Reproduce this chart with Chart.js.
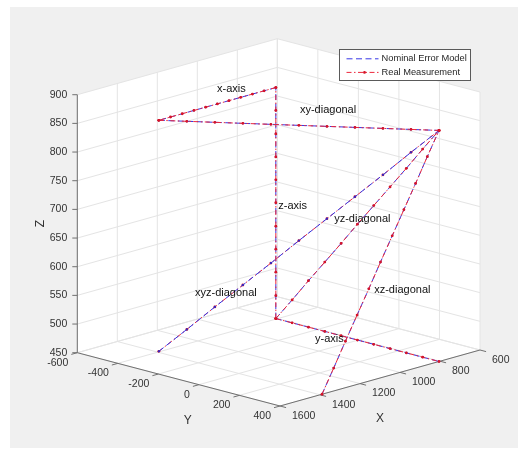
<!DOCTYPE html>
<html>
<head>
<meta charset="utf-8">
<title>Nominal error model vs real measurement</title>
<script src="https://cdn.jsdelivr.net/npm/chart.js@4.4.1/dist/chart.umd.min.js"></script>
<style>
  html, body { margin: 0; padding: 0; background: #ffffff; }
  #box { width: 518px; height: 450px; }
</style>
</head>
<body>
<div id="box"><canvas id="errorChart"></canvas></div>
<script>
// axis ticks (mm)
const xTicks = [600, 800, 1000, 1200, 1400, 1600];
const yTicks = [-600, -400, -200, 0, 200, 400];
const zTicks = [450, 500, 550, 600, 650, 700, 750, 800, 850, 900];

// measured positions along each motion (mm)
const xForward = [805, 863.5, 922, 980.5, 1039, 1097.5, 1156, 1214.5, 1273, 1331.5, 1390];
const xBack = [1390, 1331.5, 1273, 1214.5, 1156, 1097.5, 1039, 980.5, 922, 863.5, 805];
const yForward = [-405, -324.5, -244, -163.5, -83, -2.5, 78, 158.5, 239, 319.5, 400];
const zUp = [450, 490, 531, 571, 611, 652, 692, 732, 772, 813, 853];

// one entry per measured line, a single value = coordinate held fixed
const lineNames = ["z-axis", "x-axis", "xy-diagonal", "yz-diagonal", "xz-diagonal", "y-axis", "xyz-diagonal"];
const lineX = [[805], xForward, xBack, [805], xBack, [805], xBack];
const lineY = [[-405], [-405], yForward, yForward, [400], yForward, yForward];
const lineZ = [zUp, [853], [853], zUp, zUp, [450], zUp];

// where each line name is written (mm)
const labelX = [793, 1099, 1095, 805, 1129, 1000, 1417];
const labelY = [-405, -405, 0, -117, 400, -19, -200];
const labelZ = [646, 879, 880, 651, 606, 469, 573];

// fixed camera: screen spot of the back floor corner, screen step per mm along X, Y, Z
const view = { x0: 277.3, y0: 296.7, xStep: [-0.2, 0.056], yStep: [0.2027, 0.0533], zStep: -0.5733 };

function project(X, Y, Z) {
  const dx = X - xTicks[0], dy = Y - yTicks[0], dz = Z - zTicks[0];
  return {
    x: view.x0 + view.xStep[0] * dx + view.yStep[0] * dy,
    y: view.y0 + view.xStep[1] * dx + view.yStep[1] * dy + view.zStep * dz
  };
}

function pick(arr, j) { return arr.length > 1 ? arr[j] : arr[0]; }

function linePoints(i) {
  const n = Math.max(lineX[i].length, lineY[i].length, lineZ[i].length);
  const pts = [];
  for (let j = 0; j < n; j++) {
    pts.push(project(pick(lineX[i], j), pick(lineY[i], j), pick(lineZ[i], j)));
  }
  return pts;
}

const nominalStyle = {
  label: "Nominal Error Model",
  borderColor: "rgb(55,55,230)",
  backgroundColor: "rgb(40,40,200)",
  borderWidth: 1,
  borderDash: [6, 3.5],
  pointRadius: 1.1,
  pointBorderWidth: 0
};
const realStyle = {
  label: "Real Measurement",
  borderColor: "rgb(236,40,60)",
  backgroundColor: "rgb(215,20,40)",
  borderWidth: 1,
  borderDash: [5, 2.5, 1.5, 2.5],
  pointRadius: 1.4,
  pointBorderWidth: 0
};

const datasets = [];
lineNames.forEach(function (name, i) {
  const pts = linePoints(i);
  const blueOnTop = name === "xyz-diagonal";
  datasets.push(Object.assign({}, nominalStyle, { data: pts, showLine: true, clip: false, order: blueOnTop ? 0 : 1 }));
  datasets.push(Object.assign({}, realStyle, { data: pts, showLine: true, clip: false, order: blueOnTop ? 1 : 0 }));
});

const FONT = "'Liberation Sans', Arial, sans-serif";

function toPx(chart, p) {
  return { x: chart.scales.x.getPixelForValue(p.x), y: chart.scales.y.getPixelForValue(p.y) };
}
function at(chart, X, Y, Z) { return toPx(chart, project(X, Y, Z)); }

function strokeSegs(chart, segs, color, width) {
  const ctx = chart.ctx;
  ctx.save();
  ctx.strokeStyle = color;
  ctx.lineWidth = width;
  ctx.beginPath();
  segs.forEach(function (s) {
    const a = at(chart, s[0], s[1], s[2]);
    const b = at(chart, s[3], s[4], s[5]);
    ctx.moveTo(a.x, a.y);
    ctx.lineTo(b.x, b.y);
  });
  ctx.stroke();
  ctx.restore();
}

const axes3d = {
  id: "axes3d",
  beforeDraw: function (chart) {
    const ctx = chart.ctx;
    const xMin = xTicks[0], xMax = xTicks[xTicks.length - 1];
    const yMin = yTicks[0], yMax = yTicks[yTicks.length - 1];
    const zMin = zTicks[0], zMax = zTicks[zTicks.length - 1];

    ctx.save();
    ctx.fillStyle = "#ffffff";
    ctx.fillRect(0, 0, chart.width, chart.height);
    ctx.fillStyle = "#f0f0f0";
    ctx.fillRect(10, 7, chart.width - 10, chart.height - 9);

    // white panes: back walls + floor
    const hull = [
      at(chart, xMax, yMin, zMax), at(chart, xMin, yMin, zMax), at(chart, xMin, yMax, zMax),
      at(chart, xMin, yMax, zMin), at(chart, xMax, yMax, zMin), at(chart, xMax, yMin, zMin)
    ];
    ctx.fillStyle = "#ffffff";
    ctx.beginPath();
    hull.forEach(function (p, k) { if (k) ctx.lineTo(p.x, p.y); else ctx.moveTo(p.x, p.y); });
    ctx.closePath();
    ctx.fill();
    ctx.restore();

    // grid
    const grid = [];
    xTicks.forEach(function (X) {
      grid.push([X, yMin, zMin, X, yMin, zMax]);
      grid.push([X, yMin, zMin, X, yMax, zMin]);
    });
    yTicks.forEach(function (Y) {
      grid.push([xMin, Y, zMin, xMin, Y, zMax]);
      grid.push([xMin, Y, zMin, xMax, Y, zMin]);
    });
    zTicks.forEach(function (Z) {
      grid.push([xMin, yMin, Z, xMax, yMin, Z]);
      grid.push([xMin, yMin, Z, xMin, yMax, Z]);
    });
    strokeSegs(chart, grid, "#e4e4e4", 1);

    // axis lines and ticks
    const axisSegs = [
      [xMax, yMin, zMin, xMax, yMin, zMax],
      [xMax, yMin, zMin, xMax, yMax, zMin],
      [xMax, yMax, zMin, xMin, yMax, zMin]
    ];
    yTicks.forEach(function (Y) { axisSegs.push([xMax, Y, zMin, xMax + 30, Y, zMin]); });
    xTicks.forEach(function (X) { axisSegs.push([X, yMax, zMin, X, yMax + 30, zMin]); });
    strokeSegs(chart, axisSegs, "#707070", 1);

    ctx.save();
    ctx.strokeStyle = "#707070";
    ctx.lineWidth = 1;
    ctx.beginPath();
    zTicks.forEach(function (Z) {
      const p = at(chart, xMax, yMin, Z);
      ctx.moveTo(p.x - 5, p.y);
      ctx.lineTo(p.x, p.y);
    });
    ctx.stroke();

    // tick labels
    ctx.fillStyle = "#333333";
    ctx.font = "10.5px " + FONT;
    ctx.textBaseline = "middle";
    ctx.textAlign = "right";
    zTicks.forEach(function (Z) {
      const p = at(chart, xMax, yMin, Z);
      ctx.fillText(String(Z), p.x - 10, p.y);
    });
    yTicks.forEach(function (Y) {
      const p = at(chart, xMax, Y, zMin);
      ctx.fillText(String(Y), p.x - 9, p.y + 10);
    });
    ctx.textAlign = "left";
    xTicks.forEach(function (X) {
      const p = at(chart, X, yMax, zMin);
      ctx.fillText(String(X), p.x + 12, p.y + 10);
    });

    // axis titles
    ctx.font = "12px " + FONT;
    ctx.textAlign = "center";
    const ym = at(chart, xMax, (yMin + yMax) / 2, zMin);
    ctx.fillText("Y", ym.x + 9, ym.y + 41);
    const xm = at(chart, (xMin + xMax) / 2, yMax, zMin);
    ctx.fillText("X", xm.x, xm.y + 41);
    const zm = at(chart, xMax, yMin, (zMin + zMax) / 2);
    ctx.translate(zm.x - 37, zm.y);
    ctx.rotate(-Math.PI / 2);
    ctx.fillText("Z", 0, 0);
    ctx.restore();
  },
  afterDatasetsDraw: function (chart) {
    const ctx = chart.ctx;
    ctx.save();
    // line names
    ctx.fillStyle = "#111111";
    ctx.font = "11px " + FONT;
    ctx.textAlign = "left";
    ctx.textBaseline = "middle";
    lineNames.forEach(function (name, i) {
      const p = at(chart, labelX[i], labelY[i], labelZ[i]);
      ctx.fillText(name, p.x, p.y);
    });

    // legend
    const lx = 339.5, ly = 49.5, lw = 131, lh = 31;
    ctx.fillStyle = "#ffffff";
    ctx.fillRect(lx, ly, lw, lh);
    ctx.strokeStyle = "#5a5a5a";
    ctx.lineWidth = 1;
    ctx.strokeRect(lx, ly, lw, lh);
    [nominalStyle, realStyle].forEach(function (st, k) {
      const y = ly + 9.3 + k * 13.6;
      ctx.save();
      ctx.strokeStyle = st.borderColor;
      ctx.lineWidth = st.borderWidth;
      ctx.setLineDash(st.borderDash);
      ctx.beginPath();
      ctx.moveTo(lx + 7, y);
      ctx.lineTo(lx + 39, y);
      ctx.stroke();
      if (k === 1) {
        ctx.fillStyle = st.backgroundColor;
        ctx.beginPath();
        ctx.arc(lx + 25, y, st.pointRadius, 0, Math.PI * 2);
        ctx.fill();
      }
      ctx.restore();
      ctx.fillStyle = "#262626";
      ctx.font = "9.3px " + FONT;
      ctx.textAlign = "left";
      ctx.textBaseline = "middle";
      ctx.fillText(st.label, lx + 42, y);
    });
    ctx.restore();
  }
};

new Chart(document.getElementById("errorChart").getContext("2d"), {
  type: "scatter",
  data: { datasets: datasets },
  options: {
    responsive: true,
    maintainAspectRatio: false,
    animation: false,
    events: [],
    layout: { padding: 0, autoPadding: false },
    plugins: { legend: { display: false }, tooltip: { enabled: false } },
    scales: {
      x: { type: "linear", display: false, min: 0, max: 518 },
      y: { type: "linear", display: false, min: 0, max: 450, reverse: true }
    }
  },
  plugins: [axes3d]
});
</script>
</body>
</html>
